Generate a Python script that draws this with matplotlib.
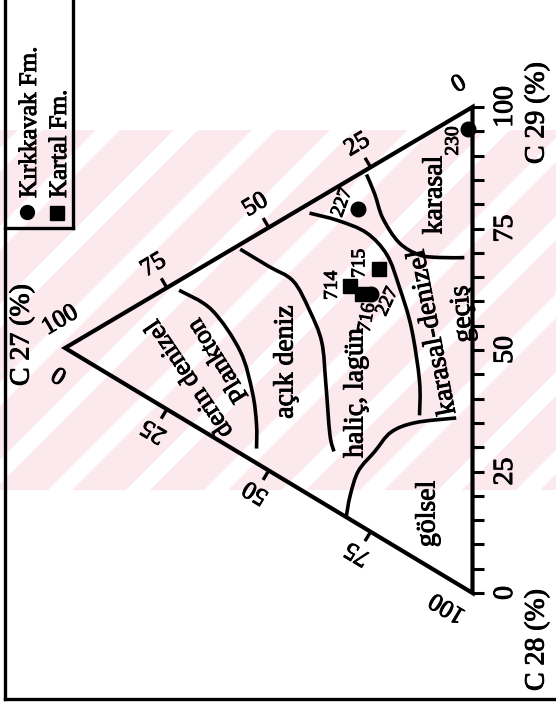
import numpy as np
import matplotlib
matplotlib.use("Agg")
import matplotlib.pyplot as plt
import matplotlib.patheffects as pe
from matplotlib.patches import Polygon, Rectangle, PathPatch
from matplotlib.path import Path

plt.rcParams['font.family'] = ['Liberation Serif', 'DejaVu Serif']

# ---- sterane compositions, percent (C27, C28, C29) ----
kirkkavak_ids = ["230", "227", "227"]
kirkkavak_c27 = [1, 28, 25]
kirkkavak_c28 = [4, 7, 26]
kirkkavak_c29 = [95, 65, 49]

kartal_ids = ["714", "715", "716"]
kartal_c27 = [30, 23, 27]
kartal_c28 = [22, 22, 25]
kartal_c29 = [48, 55, 48]

# ---- depositional-field boundaries, (C27, C28, C29) ----
bnd_derin = [(72, 2, 26), (64, 10, 26), (57, 22, 21), (54, 32, 14), (53, 39, 8), (53, 44, 3)]
bnd_acik = [(57, 1, 42), (50, 8, 42), (44, 14, 42), (40, 22, 38), (37, 30, 33),
            (36, 39, 25), (35, 50, 15), (34, 54, 12)]
bnd_halic = [(40, 2, 58), (33, 7, 60), (26, 13, 61), (21, 20, 59), (18, 28, 54),
             (15, 38, 47), (13, 50, 37), (13, 57, 30)]
bnd_karasal = [(26, 1, 73), (24, 6, 70), (22, 12, 66), (18, 19, 63), (13, 24, 63),
               (8, 27, 65), (2, 30, 68)]
bnd_golsel = [(31, 69, 0), (30, 65, 5), (28, 61, 11), (24, 59, 17), (20, 57, 23),
              (14, 58, 28), (4, 62, 34)]

axis_ticks = [0, 25, 50, 75, 100]
minor_ticks = list(range(0, 101, 5))

# ---- figure in pixel units ----
W, H = 556, 704
fig = plt.figure(figsize=(W / 100, H / 100), dpi=100)
ax = fig.add_axes([0, 0, 1, 1])
ax.set_xlim(0, W)
ax.set_ylim(H, 0)
ax.axis('off')

ink = [pe.withStroke(linewidth=0.7, foreground='black')]

# triangle corners
A = np.array([65.0, 348.0])    # C27 = 100
B = np.array([472.5, 593.0])   # C28 = 100
C = np.array([472.5, 107.0])   # C29 = 100


def tern(c27, c28, c29):
    c27, c28, c29 = (np.asarray(v, float) for v in (c27, c28, c29))
    s = c27 + c28 + c29
    x = (c27 * A[0] + c28 * B[0] + c29 * C[0]) / s
    y = (c27 * A[1] + c28 * B[1] + c29 * C[1]) / s
    return x, y


def smooth_path(x, y):
    """Cubic Bezier path passing through every given point."""
    pts = np.column_stack([x, y])
    n = len(pts)
    verts, codes = [pts[0]], [Path.MOVETO]
    for i in range(n - 1):
        p0 = pts[i - 1] if i > 0 else pts[i]
        p1, p2 = pts[i], pts[i + 1]
        p3 = pts[i + 2] if i + 2 < n else pts[i + 1]
        verts += [p1 + (p2 - p0) / 6, p2 - (p3 - p1) / 6, p2]
        codes += [Path.CURVE4] * 3
    return Path(verts, codes)


# faint diagonal background band
band_top, band_bot = 130, 490
clip = Rectangle((0, band_top), W, band_bot - band_top, transform=ax.transData)
ax.add_patch(Rectangle((0, band_top), W, band_bot - band_top, color='#fce9ed', zorder=0, lw=0))
period, white_w = 78, 24
rise = band_bot - band_top
for x0 in np.arange(-420, W + 420, period):
    stripe = Polygon([(x0, band_bot), (x0 + white_w, band_bot),
                      (x0 + white_w + rise, band_top), (x0 + rise, band_top)],
                     closed=True, color='white', lw=0, zorder=0.5)
    ax.add_patch(stripe)
    stripe.set_clip_path(clip)

# frame and legend box
ax.plot([5, 5], [0, 699], color='k', lw=2.4, zorder=3)
ax.plot([5, W], [699, 699], color='k', lw=2.4, zorder=3)
ax.plot([73, 73], [0, 228], color='k', lw=2.4, zorder=3)
ax.plot([5, 73], [228, 228], color='k', lw=2.4, zorder=3)

ax.plot([27], [212], 'o', color='k', ms=10, zorder=4)
ax.plot([57], [213], 's', color='k', ms=9.5, zorder=4)
ax.text(30, 198, "Kırkkavak Fm.", rotation=90, ha='center', va='bottom', fontsize=18,
        zorder=4, path_effects=ink)
ax.text(60, 198, "Kartal Fm.", rotation=90, ha='center', va='bottom', fontsize=18,
        zorder=4, path_effects=ink)

# triangle outline
tri = Polygon([A, B, C], closed=True, fill=False, ec='k', lw=3.0, joinstyle='miter', zorder=3)
ax.add_patch(tri)


def unit(v):
    return v / np.hypot(*v)


def outward(p, q, other):
    d = unit(q - p)
    n = np.array([d[1], -d[0]])
    if np.dot(n, other - p) > 0:
        n = -n
    return d, n


# right edge: C29 scale
for v in minor_ticks:
    x, y = tern(0, 100 - v, v)
    ax.plot([x, x + 11], [y, y], color='k', lw=2.2, zorder=3, solid_capstyle='butt')
for v in axis_ticks:
    x, y = tern(0, 100 - v, v)
    ax.text(x + 33, y, str(v), rotation=90, ha='center', va='center', fontsize=20,
            zorder=4, path_effects=ink)

# upper edge: C27 scale (100 at the apex)
d_up, n_up = outward(A, C, B)
ang_up = np.degrees(np.arctan2(-(C - A)[1], (C - A)[0]))
shift_up = {100: 10, 0: 0}
for v in axis_ticks:
    x, y = tern(v, 0, 100 - v)
    p = np.array([x, y])
    if v not in (0, 100):
        q = p + 11 * n_up
        ax.plot([p[0], q[0]], [p[1], q[1]], color='k', lw=2.4, zorder=3, solid_capstyle='butt')
    t = p + 26 * n_up + shift_up.get(v, 0) * d_up
    ax.text(t[0], t[1], str(v), rotation=ang_up, ha='center', va='center', fontsize=18,
            rotation_mode='anchor', zorder=4, path_effects=ink)

# lower edge: C28 scale (0 at the apex)
d_lo, n_lo = outward(A, B, C)
ang_lo = np.degrees(np.arctan2(-(B - A)[1], (B - A)[0])) + 180
shift_lo = {0: 9, 100: -14}
for v in axis_ticks:
    x, y = tern(100 - v, v, 0)
    p = np.array([x, y])
    if v not in (0, 100):
        q = p + 11 * n_lo
        ax.plot([p[0], q[0]], [p[1], q[1]], color='k', lw=2.4, zorder=3, solid_capstyle='butt')
    t = p + 25 * n_lo + shift_lo.get(v, 0) * d_lo
    ax.text(t[0], t[1], str(v), rotation=ang_lo, ha='center', va='center', fontsize=18,
            rotation_mode='anchor', zorder=4, path_effects=ink)

# axis titles
title_style = dict(rotation=90, ha='center', va='center', fontsize=20, zorder=4, path_effects=ink)
ax.text(22, 335, "C 27 (%)", **title_style)
ax.text(537, 113, "C 29 (%)", **title_style)
ax.text(537, 640, "C 28 (%)", **title_style)

# field boundaries
for bnd in (bnd_derin, bnd_acik, bnd_halic, bnd_karasal, bnd_golsel):
    c27, c28, c29 = zip(*bnd)
    x, y = tern(c27, c28, c29)
    ax.add_patch(PathPatch(smooth_path(x, y), fill=False, ec='k', lw=2.6,
                           capstyle='butt', zorder=3))

# field names
field_style = dict(ha='center', va='center', fontsize=20, zorder=4,
                   rotation_mode='anchor', path_effects=ink)
ax.text(190, 378, "derin denizel", rotation=124,
        **{**field_style, 'fontsize': 19})
ax.text(219, 360, "Plankton", rotation=122,
        **{**field_style, 'fontsize': 19})
ax.text(286, 362, "açık deniz", rotation=90, **field_style)
ax.text(356, 393, "haliç, lagün", rotation=90, **field_style)
ax.text(433, 332, "karasal-denizel", rotation=101, **field_style)
ax.text(463, 314, "geçiş", rotation=95, **field_style)
ax.text(435, 195, "karasal", rotation=90, **field_style)
ax.text(428, 514, "gölsel", rotation=90, **field_style)

# samples
kx, ky = tern(kirkkavak_c27, kirkkavak_c28, kirkkavak_c29)
ax.plot(kx, ky, 'o', color='k', ms=10.5, zorder=5, ls='none')
tx, ty = tern(kartal_c27, kartal_c28, kartal_c29)
ax.plot(tx, ty, 's', color='k', ms=10.5, zorder=5, ls='none')

k_label_pos = [(-15, 12, 90), (-16, -6, 70), (17, 8, 65)]
for (lab, x, y, (dx, dy, rot)) in zip(kirkkavak_ids, kx, ky, k_label_pos):
    ax.text(x + dx, y + dy, lab, rotation=rot, ha='center', va='center', fontsize=14,
            zorder=5, path_effects=ink)
t_label_pos = [(-18, -1, 90), (-19, -6, 90), (5, 24, 80)]
for (lab, x, y, (dx, dy, rot)) in zip(kartal_ids, tx, ty, t_label_pos):
    ax.text(x + dx, y + dy, lab, rotation=rot, ha='center', va='center', fontsize=14,
            zorder=5, path_effects=ink)

fig.savefig("out.png", dpi=100, facecolor='white')
